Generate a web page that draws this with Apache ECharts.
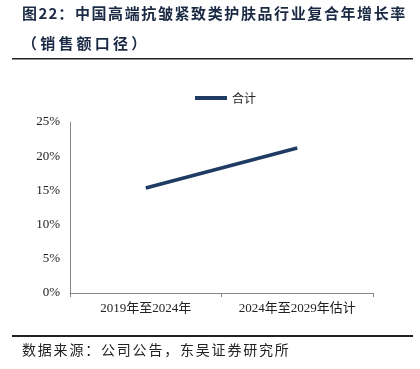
<!DOCTYPE html>
<html>
<head>
<meta charset="utf-8">
<script src="https://cdn.jsdelivr.net/npm/echarts@6/dist/echarts.min.js"></script>
<style>
html,body{margin:0;padding:0;background:#fff;}
#chart{width:420px;height:369px;}
</style>
</head>
<body>
<div id="chart"></div>
<script>
// 数据
var categories = ['2019年至2024年', '2024年至2029年估计'];
var totalValues = [15.35, 21.2];
var yTicks = [0, 5, 10, 15, 20, 25];
var titleLine1 = '图22：中国高端抗皱紧致类护肤品行业复合年增长率';
var titleLine2 = '（销售额口径）';
var sourceText = '数据来源：公司公告，东吴证券研究所';

var myChart = echarts.init(document.getElementById('chart'));

// 逐字排版（模拟字间距）
function spacedText(str, x, y, size, gap, bold, color) {
  var out = [];
  for (var i = 0; i < str.length; i++) {
    var c = str[i];
    var w = /[0-9A-Za-z]/.test(c) ? size * 0.55 : size;
    out.push({
      type: 'text',
      left: x, top: y,
      style: {
        text: c,
        fill: color,
        font: (bold ? 'bold ' : '') + size + 'px "Noto Sans CJK SC", sans-serif'
      }
    });
    x += w + gap;
  }
  return out;
}

var graphics = [];
graphics = graphics.concat(spacedText(titleLine1, 22, 6, 15, 1.6, true, '#1b2a44'));
graphics = graphics.concat(spacedText(titleLine2, 22, 36, 15, 3.2, true, '#1b2a44'));
graphics = graphics.concat(spacedText(sourceText, 22, 343, 14, 1.8, false, '#222'));
graphics.push({
  type: 'rect', left: 12, top: 58,
  shape: {width: 401, height: 1.5},
  style: {fill: '#222'}
});
graphics.push({
  type: 'rect', left: 12, top: 335,
  shape: {width: 401, height: 2},
  style: {fill: '#222'}
});

var option = {
  animation: false,
  color: ['#1f3a63'],
  graphic: graphics,
  legend: {
    top: 87,
    left: 190,
    itemWidth: 32,
    itemHeight: 4,
    itemGap: 4,
    icon: 'rect',
    textStyle: {fontFamily: '"Noto Sans CJK SC"', fontSize: 12, color: '#222'},
    data: ['合计']
  },
  grid: {left: 70, right: 47, top: 122, bottom: 76},
  xAxis: {
    type: 'category',
    data: categories,
    axisLine: {lineStyle: {color: '#888', width: 1}},
    axisTick: {show: true, length: 4, lineStyle: {color: '#888'}},
    axisLabel: {
      interval: 0,
      margin: 9,
      fontFamily: '"Liberation Serif", "Noto Sans CJK SC"',
      fontSize: 13,
      color: '#222'
    }
  },
  yAxis: {
    type: 'value',
    min: yTicks[0],
    max: yTicks[yTicks.length - 1],
    interval: 5,
    axisLine: {show: true, lineStyle: {color: '#888', width: 1}},
    axisTick: {show: false},
    splitLine: {show: false},
    axisLabel: {
      margin: 10,
      formatter: '{value}%',
      fontFamily: '"Liberation Serif"',
      fontSize: 13,
      color: '#222'
    }
  },
  series: [{
    name: '合计',
    type: 'line',
    data: totalValues,
    symbol: 'none',
    lineStyle: {width: 3.5}
  }]
};
myChart.setOption(option);
</script>
</body>
</html>
